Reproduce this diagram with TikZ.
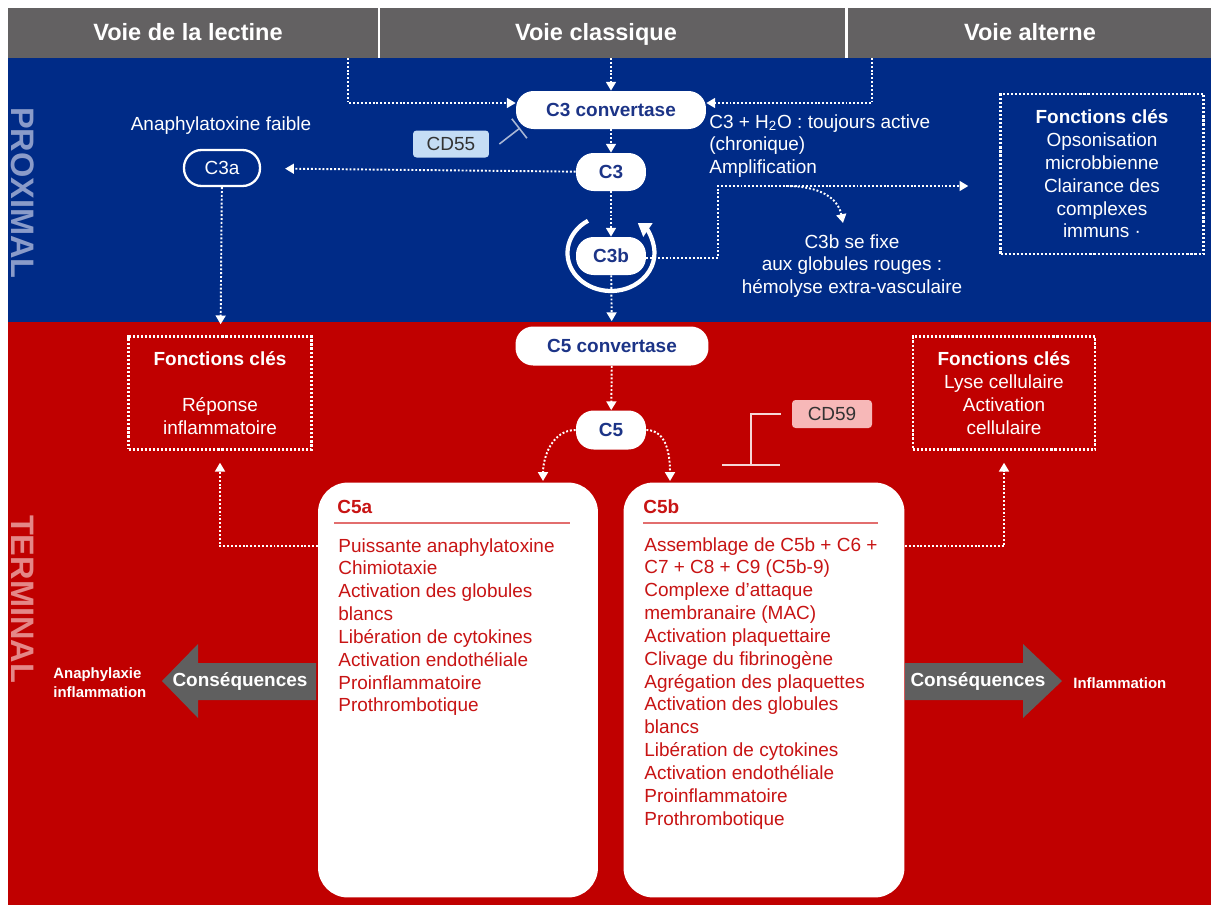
\documentclass[tikz,border=0pt]{standalone}
\usepackage{fontspec}
\setmainfont{Liberation Sans}
\usetikzlibrary{arrows.meta,positioning}

\definecolor{bandgray}{RGB}{99,97,98}
\definecolor{proxblue}{RGB}{0,43,135}
\definecolor{termred}{RGB}{192,0,0}
\definecolor{pilltext}{RGB}{28,52,135}
\definecolor{cdblue}{RGB}{197,221,245}
\definecolor{cdpink}{RGB}{247,184,184}
\definecolor{listred}{RGB}{200,20,20}
\definecolor{rulered}{RGB}{226,110,110}
\definecolor{proxlabel}{RGB}{138,155,201}
\definecolor{termlabel}{RGB}{228,135,135}
\definecolor{arrowgray}{RGB}{95,95,95}
\definecolor{inhibblue}{RGB}{168,182,212}
\definecolor{inhibpink}{RGB}{246,214,214}

\def\bodyfont{\fontsize{10.8}{13}\selectfont}

\tikzset{
	headtext/.style={text=white, text height=9.6pt, text depth=2.8pt, font=\fontsize{13.4}{16}\selectfont\bfseries},
	sidelabel/.style={rotate=-90, font=\fontsize{18.5}{20}\selectfont\bfseries},
	pill/.style={fill=white, rounded corners=10pt, minimum height=0.76cm, inner sep=0pt, text=pilltext, font=\bodyfont\bfseries},
	outpill/.style={draw=white, line width=1.3pt, rounded corners=10pt, minimum width=1.52cm, minimum height=0.72cm, inner sep=0pt, text=white, font=\bodyfont},
	whitetext/.style={text=white, font=\bodyfont, inner sep=0pt},
	cdbox/.style={rounded corners=2pt, minimum height=0.54cm, inner sep=0pt, text=black!80, font=\bodyfont},
	keybox/.style={draw=white, line width=1.4pt, dash pattern=on 1.2pt off 1.1pt, align=center, text=white, font=\bodyfont, inner sep=0pt},
	listbox/.style={fill=white, rounded corners=17pt, inner sep=0pt},
	listtitle/.style={anchor=west, inner sep=0pt, text=listred, font=\bodyfont\bfseries},
	listtext/.style={anchor=north west, align=left, inner sep=0pt, text=listred, font=\bodyfont},
	listrule/.style={rulered, line width=1.3pt},
	consqtext/.style={text=white, font=\bodyfont\bfseries},
	smalltext/.style={text=white, font=\fontsize{8.5}{10.8}\selectfont\bfseries, inner sep=0pt},
	flow/.style={white, line width=1.1pt, dash pattern=on 1.1pt off 1.1pt, -{Triangle[width=5.6pt,length=5pt]}},
	looparrow/.style={white, line width=2.4pt, -{Triangle[width=9pt,length=7pt]}},
	inhibfive/.style={inhibblue, line width=0.9pt, -{Bar[width=14pt]}},
	inhibnine/.style={inhibpink, line width=1pt, -{Bar[width=33pt]}}
}

\begin{document}
\begin{tikzpicture}[x=0.02cm,y=-0.02cm]
			%%%%% START %%%%%
			\useasboundingbox (0,0) rectangle (1211,907);
			
			\fill[bandgray] (8,8) rectangle (1211,58);
			\fill[proxblue] (8,58) rectangle (1211,322);
			\fill[termred] (8,322) rectangle (1211,905);
			\draw[white, line width=1.7pt] (379,8) -- (379,58);
			\draw[white, line width=1.7pt] (846,8) -- (846,58);
			
			\node[headtext] (hlect) at (188,35) {Voie de la lectine};
			\node[headtext] (hclass) at (596,35) {Voie classique};
			\node[headtext] (halt) at (1030,35) {Voie alterne};
			\coordinate (lectout) at (348,58);
			\coordinate (classout) at (611,58);
			\coordinate (altout) at (872,58);
			
			\node[sidelabel, text=proxlabel] (proxlbl) at (23,193) {PROXIMAL};
			\node[sidelabel, text=termlabel] (termlbl) at (23,599) {TERMINAL};
			
			% proximal
			\node[pill, minimum width=3.8cm] (c3conv) at (611,110) {C3 convertase};
			\node[pill, minimum width=1.4cm] (c3) at (611,172) {C3};
			\node[pill, minimum width=1.4cm] (c3b) at (611,256) {C3b};
			\node[outpill] (c3a) at (222,168) {C3a};
			\node[whitetext] (c3alabel) at (221,126) {Anaphylatoxine faible};
			\node[cdbox, fill=cdblue, minimum width=1.52cm] (cd55) at (451,144) {CD55};
			\node[whitetext, anchor=west, align=left] (h2o) at (709,146) {C3 + H\textsubscript{2}O : toujours active\\(chronique)\\Amplification};
			\node[whitetext, align=center] (hemol) at (852,266) {C3b se fixe\\aux globules rouges :\\hémolyse extra-vasculaire};
			\node[keybox, minimum width=4.06cm, minimum height=3.2cm] (fcprox) at (1102,174) {\textbf{Fonctions clés}\\Opsonisation\\microbbienne\\Clairance des\\complexes\\immuns ·};
			
			% terminal
			\node[pill, minimum width=3.86cm, minimum height=0.78cm] (c5conv) at (612,346) {C5 convertase};
			\node[pill, minimum width=1.4cm, minimum height=0.78cm] (c5) at (611,430) {C5};
			\node[keybox, minimum width=3.66cm, minimum height=2.26cm] (fcinfl) at (220,393) {\textbf{Fonctions clés}\\[13pt]Réponse\\inflammatoire};
			\node[keybox, minimum width=3.64cm, minimum height=2.26cm] (fcterm) at (1004,393) {\textbf{Fonctions clés}\\Lyse cellulaire\\Activation\\cellulaire};
			\node[cdbox, fill=cdpink, minimum width=1.6cm, minimum height=0.56cm] (cd59) at (832,414) {CD59};
			
			\node[listbox, minimum width=5.6cm, minimum height=8.3cm] (c5abox) at (458,690) {};
			\node[listbox, minimum width=5.62cm, minimum height=8.3cm] (c5bbox) at (764,690) {};
			\node[listtitle] (c5atitle) at (337,507) {C5a};
			\node[listtitle] (c5btitle) at (643,507) {C5b};
			\draw[listrule] (334,523) -- (570,523);
			\draw[listrule] (643,523) -- (878,523);
			\node[listtext] (c5alist) at (338,538) {Puissante anaphylatoxine\\Chimiotaxie\\Activation des globules\\blancs\\Libération de cytokines\\Activation endothéliale\\Proinflammatoire\\Prothrombotique};
			\node[listtext] (c5blist) at (644,537) {Assemblage de C5b + C6 +\\C7 + C8 + C9 (C5b-9)\\Complexe d’attaque\\membranaire (MAC)\\Activation plaquettaire\\Clivage du fibrinogène\\Agrégation des plaquettes\\Activation des globules\\blancs\\Libération de cytokines\\Activation endothéliale\\Proinflammatoire\\Prothrombotique};
			
			\fill[arrowgray] (316,663) -- (198,663) -- (198,644) -- (162,681) -- (198,718) -- (198,700) -- (316,700) -- cycle;
			\fill[arrowgray] (905,663) -- (1023,663) -- (1023,644) -- (1062,681) -- (1023,718) -- (1023,700) -- (905,700) -- cycle;
			\node[consqtext] (consqa) at (240,681) {Conséquences};
			\node[consqtext] (consqb) at (978,681) {Conséquences};
			\node[smalltext, anchor=west, align=left] (anaph) at (53,683) {Anaphylaxie\\inflammation};
			\node[smalltext, anchor=west] (inflam) at (1073,683) {Inflammation};
			
			% connectors
			\draw[flow] (lectout) |- ([yshift=0.14cm]c3conv.west);
			\draw[flow] (classout) -- (c3conv.north);
			\draw[flow] (altout) |- ([yshift=0.14cm]c3conv.east);
			\draw[flow] (c3conv) -- (c3);
			\draw[flow, shorten >=0.48cm] (c3) -- (c3a);
			\draw[flow] (c3) -- (c3b);
			\draw[flow, shorten >=0.1cm] (c3b) -- (c5conv);
			\coordinate (c3bbend) at (718,186);
			\draw[flow, shorten >=0.62cm] ([yshift=-0.04cm]c3b.east) -| (c3bbend) -- (c3bbend -| fcprox.west);
			\coordinate (branch) at (786,186);
			\draw[flow] (branch) .. controls (820,186) and (838,198) .. ([xshift=-0.18cm,yshift=0.22cm]hemol.north);
			\draw[flow, shorten >=0.22cm] (c3a) -- (fcinfl);
			\draw[looparrow] ([yshift=0.06cm]c3b.center) ++(238:43.5 and 38) arc[start angle=238, end angle=-52, x radius=43.5, y radius=38];
			\coordinate (cd55hit) at (520,128);
			\draw[inhibfive] ([xshift=0.2cm]cd55.east) -- (cd55hit);
			
			\draw[flow] (c5conv) -- (c5);
			\coordinate (c5ain) at (543,481);
			\coordinate (c5bin) at (670,481);
			\draw[flow] (c5.west) to[out=180, in=90] (c5ain);
			\draw[flow] (c5.east) to[out=0, in=90] (c5bin);
			\coordinate (c5aout) at (318,546);
			\coordinate (c5bout) at (905,546);
			\draw[flow, shorten >=0.24cm] (c5aout) -| (fcinfl.south);
			\draw[flow, shorten >=0.24cm] (c5bout) -| (fcterm.south);
			\coordinate (cd59hit) at (751,466);
			\draw[inhibnine] ([xshift=-0.22cm]cd59.west) -| (cd59hit);
			
			%%%%% END %%%%%
\end{tikzpicture}
\end{document}
